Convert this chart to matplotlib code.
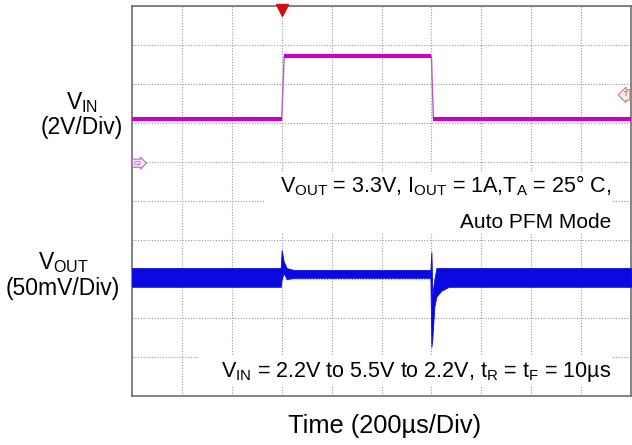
import matplotlib

matplotlib.use("Agg")
import matplotlib.pyplot as plt
from matplotlib.patches import Rectangle

plt.rcParams["font.family"] = ["Liberation Sans", "DejaVu Sans"]
plt.rcParams["mathtext.fontset"] = "custom"
plt.rcParams["mathtext.rm"] = "Liberation Sans"
plt.rcParams["mathtext.it"] = "Liberation Sans:italic"

# scope traces, in screen divisions (x: 200us/div, y: 10 divs full screen)
vin_t = [0.0, 3.0, 3.05, 6.0, 6.04, 10.0]
vin_div = [7.1, 7.1, 8.72, 8.72, 7.1, 7.1]

vout_t = [0.0, 2.98, 3.0, 3.04, 3.1, 3.25, 5.98, 6.0, 6.02, 6.06, 6.1, 6.2, 6.35, 10.0]
vout_hi = [3.28, 3.28, 3.74, 3.45, 3.28, 3.23, 3.23, 3.69, 2.6, 3.0, 3.28, 3.28, 3.28, 3.28]
vout_lo = [2.80, 2.80, 3.0, 3.15, 3.0, 3.03, 3.03, 1.26, 1.5, 2.3, 2.55, 2.7, 2.80, 2.80]

trigger_t = 3.0
trigger_level = 7.72
ch2_ref = 5.97

VIN_COLOR = "#c800c8"
VOUT_COLOR = "#0a0ae0"

fig = plt.figure(figsize=(6.32, 4.45), dpi=100)
ax = fig.add_axes([132 / 632, 49 / 445, 499 / 632, 390 / 445])
ax.set_xlim(0, 10)
ax.set_ylim(0, 10)
ax.set_xticks(range(11))
ax.set_yticks(range(11))
ax.tick_params(length=0, labelbottom=False, labelleft=False)
ax.set_axisbelow(True)
ax.grid(True, linestyle=(0, (1, 1.5)), color="#9a9a9a", linewidth=0.8)
for sp in ax.spines.values():
    sp.set_color("#707070")
    sp.set_linewidth(1.2)

# white patches behind the annotations
ax.add_patch(Rectangle((2.66, 4.18), 6.96, 1.56, facecolor="white", edgecolor="none", zorder=1))
ax.add_patch(Rectangle((1.32, 0.28), 8.30, 0.75, facecolor="white", edgecolor="none", zorder=1))

# VIN: thin edges, thick flat parts
ax.plot(vin_t, vin_div, color="#b060c0", linewidth=1.0, zorder=3)
for i in range(len(vin_t) - 1):
    if vin_div[i] == vin_div[i + 1]:
        ax.plot(vin_t[i:i + 2], vin_div[i:i + 2], color=VIN_COLOR, linewidth=3.0,
                solid_capstyle="butt", zorder=3)

# VOUT ripple envelope
ax.fill_between(vout_t, vout_lo, vout_hi, color=VOUT_COLOR, linewidth=0.6,
                edgecolor=VOUT_COLOR, zorder=3)

# scope markers
ax.plot([trigger_t], [9.9], marker="v", color="#d01010", markersize=8, clip_on=False, zorder=5)
ax.text(9.9, trigger_level, "T", fontsize=5, color="#b03030", ha="center", va="center",
        bbox=dict(boxstyle="larrow,pad=0.25", fc="#f8eaea", ec="#c08080", lw=0.8), zorder=5)
ax.text(0.12, ch2_ref, "C2", fontsize=4.5, color="#a040b0", ha="center", va="center",
        bbox=dict(boxstyle="rarrow,pad=0.25", fc="#f4e6f6", ec="#b070c0", lw=0.8), zorder=5)

FS = 15.5
ax.text(9.6, 5.23, r"$\mathrm{V_{OUT}}$ = 3.3V, $\mathrm{I_{OUT}}$ = 1A,$\mathrm{T_{A}}$ = 25° C,",
        fontsize=FS, ha="right", va="baseline", zorder=4)
ax.text(9.6, 4.31, "Auto PFM Mode", fontsize=15, ha="right", va="baseline", zorder=4)
ax.text(9.6, 0.49, r"$\mathrm{V_{IN}}$ = 2.2V to 5.5V to 2.2V, $\mathrm{t_{R}}$ = $\mathrm{t_{F}}$ = 10µs",
        fontsize=FS, ha="right", va="baseline", zorder=4)

LFS = 16.5
fig.text(82 / 632, 0.755, r"$\mathrm{V_{IN}}$", fontsize=LFS, ha="center", va="baseline")
fig.text(82 / 632, 0.699, "(2V/Div)", fontsize=LFS, ha="center", va="baseline")
fig.text(63 / 632, 0.395, r"$\mathrm{V_{OUT}}$", fontsize=LFS, ha="center", va="baseline")
fig.text(63 / 632, 0.337, "(50mV/Div)", fontsize=LFS, ha="center", va="baseline")

fig.text(385 / 632, 0.027, "Time (200µs/Div)", fontsize=18.3, ha="center", va="baseline")

fig.savefig("out.png", dpi=100)
